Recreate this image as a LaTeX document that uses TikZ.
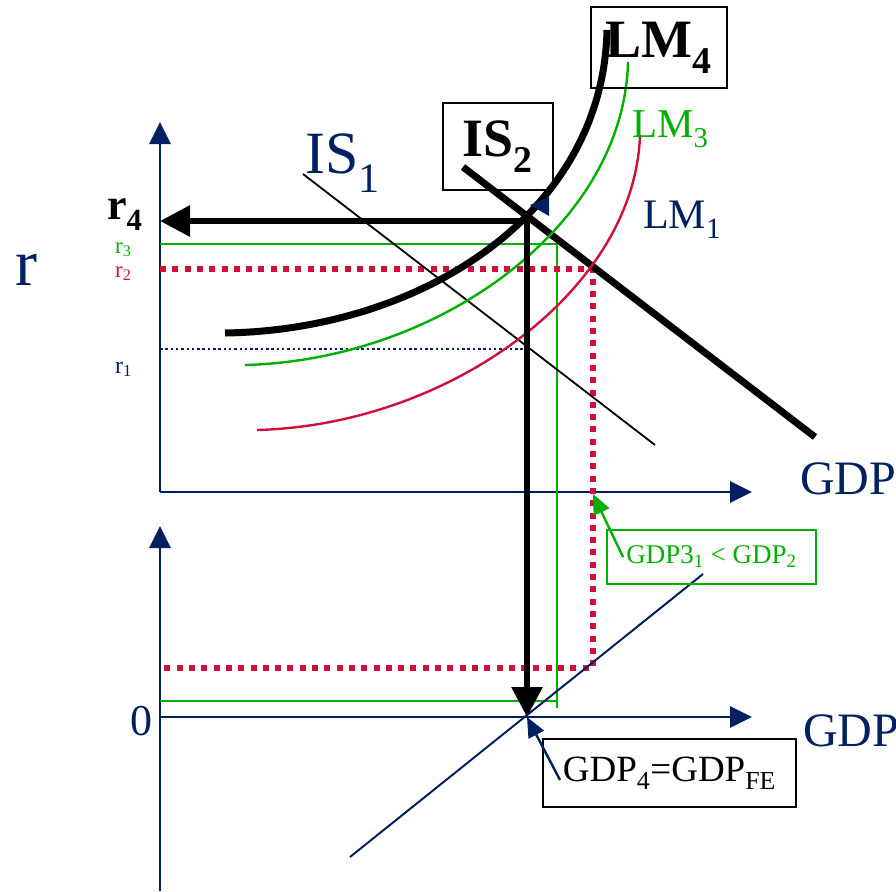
\documentclass[tikz,border=0pt]{standalone}
\usepackage{fontspec}
\setmainfont{Liberation Serif}
\usetikzlibrary{arrows.meta}
\definecolor{navy}{RGB}{0,32,96}
\definecolor{grn}{RGB}{0,176,0}
\definecolor{crim}{RGB}{208,16,58}
\newcommand{\fsz}[1]{\fontsize{#1}{#1}\selectfont}
\newcommand{\sub}[1]{\textsubscript{#1}}

\begin{document}
\begin{tikzpicture}[x=1pt, y=-1pt,
  axis/.style={draw=navy, line width=2.9pt, -{Triangle[length=22pt,width=21pt]}},
  bigarrow/.style={line width=6pt, line join=miter,
                   {Triangle[length=30pt,width=30pt]}-{Triangle[length=30pt,width=30pt]}},
  lbl/.style={anchor=base west, inner sep=0pt},
  box/.style={draw, line width=1.8pt, inner sep=0pt},
  ptr/.style={line width=2.4pt, -{Triangle[length=20pt,width=17pt]}},
  redline/.style={draw=crim, line width=5.5pt, dash pattern=on 6pt off 6.3pt},
  grnline/.style={draw=grn, line width=2.6pt}]
  \useasboundingbox (0,0) rectangle (896,891);
  % axes
  \coordinate (O1) at (160,492);
  \coordinate (ytop) at (160,122);
  \coordinate (xend) at (752,492);
  \coordinate (ybot) at (160,891);
  \coordinate (y2top) at (160,526);
  \coordinate (O2) at (160,717);
  \coordinate (x2end) at (752,717);
  \draw[axis] (O1) -- (ytop);
  \draw[axis] (O1) -- (xend);
  \draw[axis] (ybot) -- (y2top);
  \draw[axis] (O2) -- (x2end);
  \node[lbl, font=\fsz{66}, text=navy] (rlab) at (15,285) {r};
  \node[lbl, font=\fsz{48}, text=navy] (gdp1) at (800,494) {GDP};
  \node[lbl, font=\fsz{48}, text=navy] (gdp2) at (803,746) {GDP};
  \node[lbl, font=\fsz{44}, text=navy] (zero) at (130,735) {0};
  % interest rate labels
  \node[lbl, font=\fsz{44}\bfseries] (r4) at (107,219) {r\sub{4}};
  \node[lbl, font=\fsz{23}, text=grn] (r3) at (115,253) {r\sub{3}};
  \node[lbl, font=\fsz{23}, text=crim] (r2) at (115,277) {r\sub{2}};
  \node[lbl, font=\fsz{24}, text=navy] (r1) at (115,373) {r\sub{1}};
  % equilibrium levels
  \coordinate (E1) at (524,349);
  \coordinate (E2) at (593,269);
  \coordinate (E3) at (557,244);
  \coordinate (E4) at (527,221);
  \coordinate (Y4) at (527,717);
  \coordinate (r4ax) at (160,221);
  \draw[grnline] (160,244) -- (E3) -- (557,708);
  \draw[grnline] (160,701) -- (557,701);
  \draw[redline] (160,269) -- (E2) -- (593,668) -- (160,668);
  \draw[navy, line width=2pt, dash pattern=on 2.5pt off 2.8pt] (160,349) -- (E1);
  % IS curves
  \draw[line width=1.8pt] (303,174) -- (655,445);
  \draw[line width=7pt] (463,167) -- (815,437);
  \node[lbl, font=\fsz{60}, text=navy] (is1) at (305,173) {IS\sub{1}};
  \node[box, minimum width=110, minimum height=87, font=\fsz{54}\bfseries]
    (is2) at (498,146.5) {IS\sub{2}};
  % LM curves
  \draw[crim, line width=2.4pt] (257,430) .. controls (450,425) and (635,290) .. (640,135);
  \draw[grn, line width=2.4pt] (245,365) .. controls (440,360) and (624,225) .. (628,62);
  \draw[line width=7pt] (225,333) .. controls (420,330) and (603,215) .. (607,30);
  \node[box, minimum width=136, minimum height=81, font=\fsz{54}\bfseries]
    (lm4) at (659,47.5) {LM\sub{4}};
  \node[lbl, font=\fsz{41}, text=grn] (lm3) at (632,137) {LM\sub{3}};
  \node[lbl, font=\fsz{42}, text=navy] (lm1) at (643,228) {LM\sub{1}};
  \fill[navy] (530,205) -- (549,197) -- (549,216) -- cycle;
  % move to r4 and GDP4
  \draw[bigarrow] (r4ax) -- (E4) -- (Y4);
  % 45 degree line
  \draw[navy, line width=2pt] (350,857) -- (703,574);
  % annotations
  \node[box, draw=grn, minimum width=209, minimum height=54, font=\fsz{27}, text=grn]
    (gap) at (711.5,557) {GDP3\sub{1} < GDP\sub{2}};
  \coordinate (gapstart) at (623,557);
  \coordinate (Y2) at (593,494);
  \draw[ptr, grn] (gapstart) -- (Y2);
  \node[box, minimum width=253, minimum height=68, font=\fsz{37}]
    (fe) at (669.5,773) {GDP\sub{4}=GDP\sub{FE}};
  \coordinate (festart) at (560,780);
  \draw[ptr, navy] (festart) -- (Y4);
\end{tikzpicture}
\end{document}
